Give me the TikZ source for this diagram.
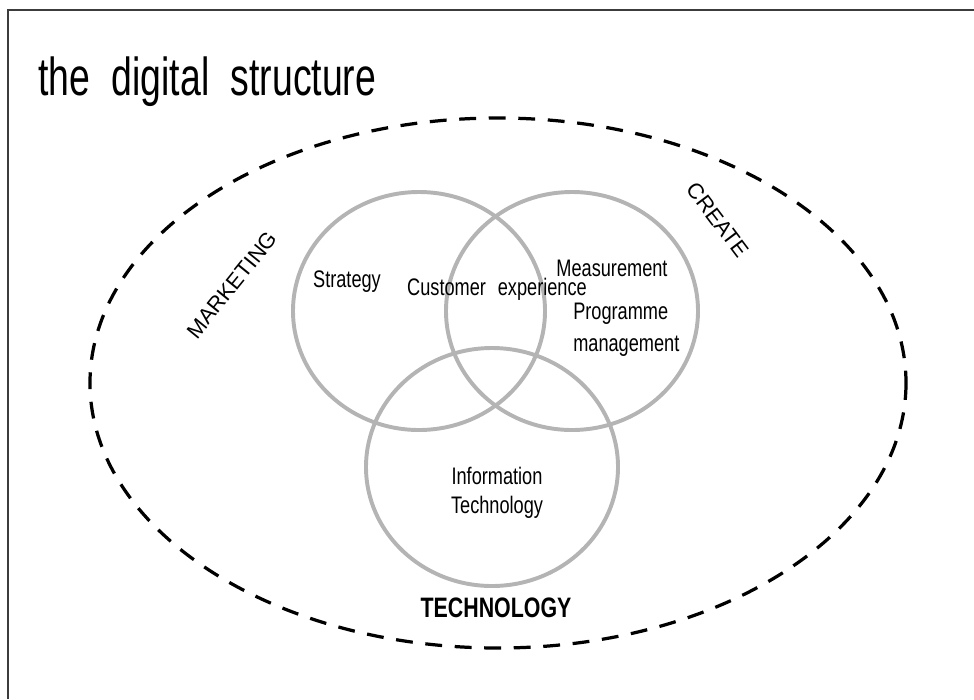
\documentclass[tikz,border=0pt]{standalone}
\usepackage{fontspec}
\setmainfont{Liberation Sans}
\newfontfamily\narrowfont[FakeStretch=0.76]{Liberation Sans}
\newfontfamily\titlefont[FakeStretch=0.7]{Liberation Sans}
\usepackage{tikz}
\usetikzlibrary{positioning}
\definecolor{ringgray}{RGB}{180,180,180}
\definecolor{framegray}{RGB}{60,60,60}

\begin{document}
\begin{tikzpicture}[x=0.025cm, y=-0.025cm,
	frame/.style={framegray, line width=1.4pt},
	ring/.style={ringgray, line width=2.8pt},
	outline/.style={black, line width=2.3pt, dash pattern=on 12pt off 9pt},
	lbl/.style={inner sep=0pt, font=\narrowfont\fontsize{17pt}{19pt}\selectfont},
	area/.style={inner sep=0pt, font=\fontsize{15.5pt}{17pt}\selectfont}]
	\useasboundingbox (0,0) rectangle (974,699);

	% Frame:
	\draw[frame] (8,699) |- (974,10);

	% Shapes:
	\draw[outline] (498,383) ellipse [x radius=408, y radius=265];
	\draw[ring] (419,311) ellipse [x radius=126, y radius=119];
	\draw[ring] (572,311) ellipse [x radius=126, y radius=119];
	\draw[ring] (492,467) ellipse [x radius=126, y radius=119];

	% Labels:
	\node[anchor=west, inner sep=0pt, font=\titlefont\fontsize{38pt}{40pt}\selectfont] (title) at (38,82) {the\hskip0.4em digital\hskip0.4em structure};
	\node[lbl] (strategy) at (347,282) {Strategy};
	\node[lbl] (customer) at (497,289) {Customer\hskip0.5em experience};
	\node[lbl] (measure) at (612,268) {Measurement};
	\node[lbl, anchor=west] (programme) at (573,314) {Programme};
	\node[lbl, anchor=west] (management) at (573,346) {management};
	\node[lbl] (info) at (497,476) {Information};
	\node[lbl] (tech) at (497,507) {Technology};
	\node[area, rotate=51] (marketing) at (232,285) {MARKETING};
	\node[area, rotate=-53] (create) at (718,220) {CREATE};
	\node[inner sep=0pt, font=\narrowfont\bfseries\fontsize{20pt}{22pt}\selectfont] (technology) at (496,608) {TECHNOLOGY};
\end{tikzpicture}
\end{document}
